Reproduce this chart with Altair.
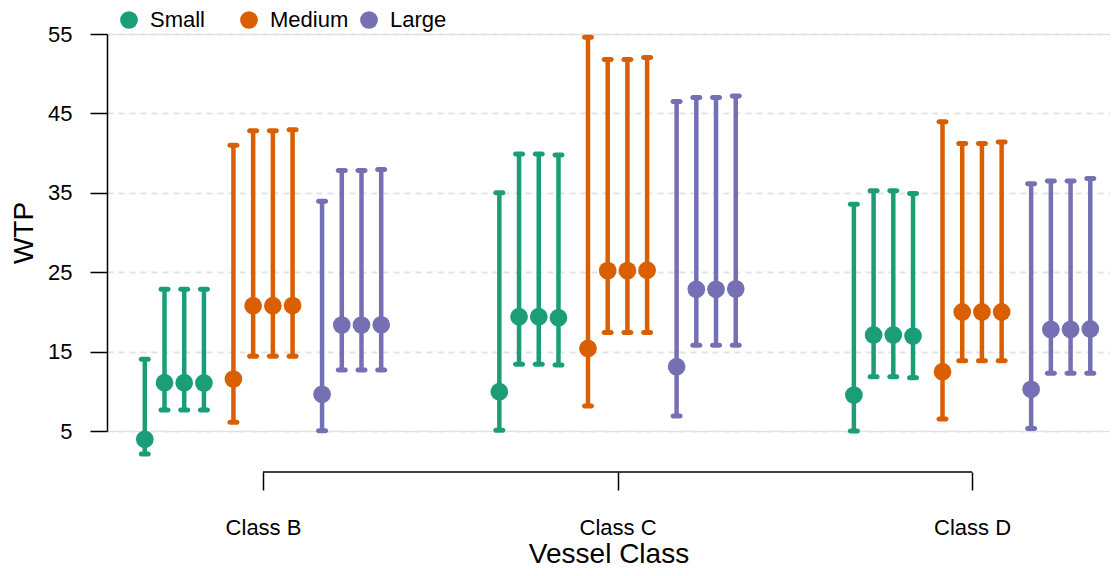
import json
import altair as alt
import pandas as pd

classes = ["Class B", "Class C", "Class D"]
sizes = ["Small", "Medium", "Large"]
colors = ["#1B9E77", "#D95F02", "#7570B3"]
n_models = 4

# estimates, per size -> per class -> 4 models
est = {
    "Small":  [[3.95, 11.08, 11.08, 11.05], [9.95, 19.4, 19.4, 19.27], [9.53, 17.1, 17.1, 16.96]],
    "Medium": [[11.55, 20.78, 20.78, 20.8], [15.4, 25.2, 25.2, 25.25], [12.47, 20.0, 20.0, 20.0]],
    "Large":  [[9.62, 18.35, 18.35, 18.37], [13.1, 22.85, 22.85, 22.9], [10.25, 17.8, 17.8, 17.85]],
}
lo = {
    "Small":  [[2.1, 7.64, 7.64, 7.64], [5.1, 13.4, 13.4, 13.3], [5.0, 11.84, 11.84, 11.7]],
    "Medium": [[6.1, 14.4, 14.4, 14.4], [8.15, 17.4, 17.4, 17.4], [6.5, 13.86, 13.86, 13.86]],
    "Large":  [[5.04, 12.68, 12.68, 12.68], [6.9, 15.8, 15.8, 15.8], [5.3, 12.27, 12.27, 12.27]],
}
hi = {
    "Small":  [[14.03, 22.85, 22.85, 22.85], [35.0, 39.9, 39.9, 39.76], [33.55, 35.27, 35.27, 34.9]],
    "Medium": [[41.0, 42.8, 42.8, 42.95], [54.6, 51.8, 51.8, 52.05], [43.96, 41.2, 41.2, 41.4]],
    "Large":  [[33.93, 37.8, 37.8, 37.95], [46.5, 47.0, 47.0, 47.2], [36.15, 36.5, 36.5, 36.8]],
}
y_ticks = [5, 15, 25, 35, 45, 55]

rows = []
for ci, c in enumerate(classes):
    for si, s in enumerate(sizes):
        for m in range(n_models):
            rows.append({
                "cls": c, "ci": ci + 1, "size": s, "si": si, "model": m,
                "est": est[s][ci][m], "lo": lo[s][ci][m], "hi": hi[s][ci][m],
            })
df = pd.DataFrame(rows)

size_step = 0.25
model_step = 0.0556
base = alt.Chart(df).transform_calculate(
    xpos=f"datum.ci + (datum.si - 1) * {size_step} + (datum.model - 1.5) * {model_step}"
)

W, H = 1003, 397
xscale = alt.Scale(domain=[0.56, 3.389], nice=False, zero=False)
yscale = alt.Scale(domain=[5, 55], nice=False, zero=False)
cscale = alt.Scale(domain=sizes, range=colors)
font = "Liberation Sans"

label_expr = f"{json.dumps(classes)}[datum.value - 1]"

xaxis = alt.Axis(
    values=[1, 2, 3], labelExpr=label_expr, domain=False, grid=False,
    ticks=True, tickSize=18, tickWidth=1.5, tickColor="black", offset=41,
    labelFontSize=22, labelPadding=27, labelColor="black", labelFont=font,
    title="Vessel Class", titleFontSize=28, titleFont=font, titleFontWeight="normal",
    titleColor="black", titlePadding=2,
)
yaxis = alt.Axis(
    values=y_ticks, domain=True, domainColor="black", domainWidth=1.5,
    ticks=True, tickSize=17, tickWidth=1.5, tickColor="black",
    labelFontSize=22, labelPadding=18, labelColor="black", labelFont=font,
    grid=True, gridColor="#e3e3e3", gridDash=[6, 5], gridWidth=1.8,
    title="WTP", titleFontSize=28, titleFont=font, titleFontWeight="normal",
    titleColor="black", titlePadding=9,
)

bars = base.mark_rule(strokeWidth=4.5).encode(
    x=alt.X("xpos:Q", scale=xscale, axis=xaxis),
    y=alt.Y("lo:Q", scale=yscale, axis=yaxis),
    y2="hi:Q",
    stroke=alt.Stroke("size:N", scale=cscale, legend=None),
)
caps_lo = base.mark_tick(orient="horizontal", size=12, thickness=5, cornerRadius=2.5, opacity=1).encode(
    x="xpos:Q", y="lo:Q", fill=alt.Fill("size:N", scale=cscale, legend=None),
)
caps_hi = base.mark_tick(orient="horizontal", size=12, thickness=5, cornerRadius=2.5, opacity=1).encode(
    x="xpos:Q", y="hi:Q", fill=alt.Fill("size:N", scale=cscale, legend=None),
)
points = base.mark_point(filled=True, size=314, opacity=1, shape="circle").encode(
    x="xpos:Q", y="est:Q",
    color=alt.Color("size:N", scale=cscale, legend=alt.Legend(
        title=None, orient="none", legendX=11, legendY=-25, direction="horizontal",
        columns=3, gridAlign="all", columnPadding=9, padding=0,
        symbolType="circle", symbolSize=314, symbolStrokeWidth=0, symbolOpacity=1,
        labelOffset=10, labelFontSize=22, labelFont=font, labelColor="black",
    )),
)

bracket_df = pd.DataFrame({"x": [1], "x2": [len(classes)]})
bracket = alt.Chart(bracket_df).mark_rule(color="black", strokeWidth=1.5).encode(
    x="x:Q", x2="x2:Q", y=alt.value(H + 41),
)

chart = alt.layer(bars, caps_lo, caps_hi, points, bracket).properties(
    width=W, height=H,
    autosize=alt.AutoSizeParams(type="none"),
    padding={"left": 99, "top": 26, "right": 0, "bottom": 137},
).resolve_scale(color="independent", fill="independent", stroke="independent"
).configure_view(stroke=None).configure(font=font)

chart.save("out.html", embed_options={"renderer": "svg", "actions": False})
